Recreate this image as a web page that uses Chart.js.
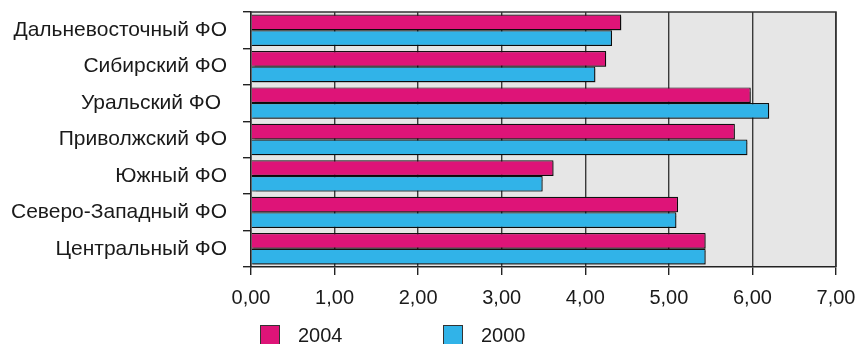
<!DOCTYPE html>
<html>
<head>
<meta charset="utf-8">
<script src="https://cdn.jsdelivr.net/npm/chart.js@4/dist/chart.umd.min.js"></script>
<style>
  html, body { margin: 0; padding: 0; background: #fff; }
  #wrap { width: 858px; height: 344px; position: relative; }
</style>
</head>
<body>
<div id="wrap"><canvas id="c" width="858" height="344"></canvas></div>
<script>
// Federal districts, top to bottom
const districts = [
  'Дальневосточный ФО',
  'Сибирский ФО',
  'Уральский ФО ',
  'Приволжский ФО',
  'Южный ФО',
  'Северо-Западный ФО',
  'Центральный ФО'
];
const values2004 = [4.43, 4.25, 5.98, 5.79, 3.62, 5.11, 5.44];
const values2000 = [4.32, 4.12, 6.20, 5.94, 3.49, 5.09, 5.44];
const seriesNames = ['2004', '2000'];
const xTicks = [0, 1, 2, 3, 4, 5, 6, 7];

const PINK = '#de1478';
const BLUE = '#31b3e8';
const FONT = '"Liberation Sans", Arial, sans-serif';

// Grey plot background plus top/right frame
const plotFrame = {
  id: 'plotFrame',
  beforeDraw(chart) {
    const { ctx, chartArea: a } = chart;
    ctx.save();
    ctx.fillStyle = '#e6e6e6';
    ctx.fillRect(a.left, a.top, a.right - a.left, a.bottom - a.top);
    ctx.restore();
  },
  afterDraw(chart) {
    const { ctx, chartArea: a } = chart;
    ctx.save();
    ctx.strokeStyle = '#333';
    ctx.lineWidth = 1.5;
    ctx.beginPath();
    ctx.moveTo(a.left, a.top);
    ctx.lineTo(a.right, a.top);
    ctx.lineTo(a.right, a.bottom);
    ctx.stroke();
    ctx.restore();
  }
};

// Soft drop shadow under the bars
const barShadow = {
  id: 'barShadow',
  beforeDatasetsDraw(chart) {
    const ctx = chart.ctx;
    ctx.save();
    ctx.shadowColor = 'rgba(0,0,0,0.35)';
    ctx.shadowOffsetX = 1.5;
    ctx.shadowOffsetY = 1.5;
    ctx.shadowBlur = 1;
  },
  afterDatasetsDraw(chart) {
    chart.ctx.restore();
  }
};

// Legend row below the axis
const bottomLegend = {
  id: 'bottomLegend',
  afterDraw(chart) {
    const ctx = chart.ctx;
    const items = chart.data.datasets.map((d, i) => ({
      label: d.label, color: d.backgroundColor, x: [260, 443][i]
    }));
    ctx.save();
    ctx.font = '20px ' + FONT;
    ctx.textBaseline = 'middle';
    items.forEach(it => {
      ctx.fillStyle = it.color;
      ctx.fillRect(it.x, 325, 19, 20);
      ctx.strokeStyle = '#333';
      ctx.lineWidth = 1;
      ctx.strokeRect(it.x + 0.5, 325.5, 19, 20);
      ctx.fillStyle = '#1a1a1a';
      ctx.fillText(it.label, it.x + 38, 336);
    });
    ctx.restore();
  }
};

new Chart(document.getElementById('c'), {
  type: 'bar',
  data: {
    labels: districts,
    datasets: [
      { label: seriesNames[0], data: values2004, backgroundColor: PINK,
        borderColor: '#111', borderWidth: 1.2 },
      { label: seriesNames[1], data: values2000, backgroundColor: BLUE,
        borderColor: '#111', borderWidth: 1.2 }
    ]
  },
  options: {
    indexAxis: 'y',
    responsive: false,
    animation: false,
    layout: { padding: { top: 12, right: 22, bottom: 0, left: 0 } },
    datasets: { bar: { categoryPercentage: 0.86, barPercentage: 1 } },
    plugins: { legend: { display: false }, tooltip: { enabled: false } },
    scales: {
      x: {
        type: 'linear',
        min: xTicks[0],
        max: xTicks[xTicks.length - 1],
        afterBuildTicks(scale) { scale.ticks = xTicks.map(v => ({ value: v })); },
        afterFit(scale) {
          scale.height = 77;
          scale.paddingLeft = 0;
          scale.paddingRight = 0;
        },
        ticks: {
          callback: v => v.toFixed(2).replace('.', ','),
          font: { family: FONT, size: 20 },
          color: '#1a1a1a',
          padding: 11,
          maxRotation: 0
        },
        grid: { color: '#3a3a3a', lineWidth: 1.4, tickLength: 8, tickColor: '#222' },
        border: { color: '#222', width: 1.5 }
      },
      y: {
        type: 'category',
        afterFit(scale) {
          scale.width = 251;
          scale.paddingTop = 0;
          scale.paddingBottom = 0;
        },
        ticks: {
          font: { family: FONT, size: 21 },
          color: '#1a1a1a',
          padding: 16
        },
        grid: { offset: true, drawOnChartArea: false, tickLength: 8, color: '#222', lineWidth: 1.4 },
        border: { color: '#222', width: 1.5 }
      }
    }
  },
  plugins: [plotFrame, barShadow, bottomLegend]
});
</script>
</body>
</html>
